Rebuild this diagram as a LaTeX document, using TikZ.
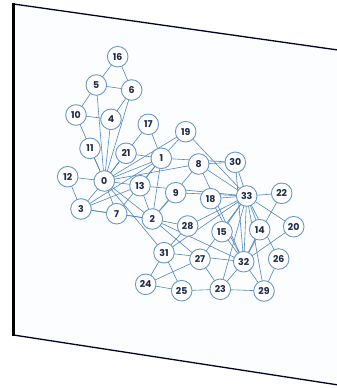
\documentclass[tikz,border=0pt]{standalone}
\usepackage{fontspec}
\setmainfont{Poppins}
\usetikzlibrary{backgrounds}
\definecolor{edgec}{HTML}{4F86C0}
\definecolor{nodec}{HTML}{6A98C8}
\definecolor{txtc}{HTML}{1C2A45}
\definecolor{planec}{HTML}{FCFDFE}
\tikzset{
  vtx/.style={circle, draw=nodec, line width=0.9pt, fill=white, minimum size=20.6pt, inner sep=0pt, text=txtc, font=\fontsize{9.4}{10}\selectfont\bfseries},
  edg/.style={draw=edgec, line width=0.6pt},
}
\begin{document}
\begin{tikzpicture}[x=1pt,y=-1pt]
\useasboundingbox (0,0) rectangle (337,388);
% nodes
\node[vtx] (n16) at (117.7,56.7) {16};
\node[vtx] (n5) at (96.3,85) {5};
\node[vtx] (n6) at (131.7,90) {6};
\node[vtx] (n10) at (76,115) {10};
\node[vtx] (n4) at (111,119.3) {4};
\node[vtx] (n17) at (148.3,124.3) {17};
\node[vtx] (n19) at (185.7,131.7) {19};
\node[vtx] (n11) at (90,148.3) {11};
\node[vtx] (n21) at (126,153.3) {21};
\node[vtx] (n1) at (161.3,158.3) {1};
\node[vtx] (n8) at (198.7,164) {8};
\node[vtx] (n30) at (235.3,162.3) {30};
\node[vtx] (n12) at (67.7,176.7) {12};
\node[vtx] (n0) at (104.3,181) {0};
\node[vtx] (n13) at (140,185.7) {13};
\node[vtx] (n9) at (175.7,192.7) {9};
\node[vtx] (n18) at (210.7,198.7) {18};
\node[vtx] (n33) at (246.7,196) {33};
\node[vtx] (n22) at (281.7,193.3) {22};
\node[vtx] (n3) at (81,209) {3};
\node[vtx] (n7) at (116.7,213.7) {7};
\node[vtx] (n2) at (152.3,219) {2};
\node[vtx] (n28) at (187.7,226) {28};
\node[vtx] (n15) at (222,231.7) {15};
\node[vtx] (n14) at (259.7,229.7) {14};
\node[vtx] (n20) at (293.7,226.7) {20};
\node[vtx] (n31) at (164,252.7) {31};
\node[vtx] (n27) at (200,259.3) {27};
\node[vtx] (n32) at (243.7,261.7) {32};
\node[vtx] (n26) at (278.7,259) {26};
\node[vtx] (n24) at (145.7,284.3) {24};
\node[vtx] (n25) at (181.7,290.7) {25};
\node[vtx] (n23) at (220.3,289.3) {23};
\node[vtx] (n29) at (264,291) {29};
\begin{scope}[on background layer]
% plane
\fill[planec] (13.5,4) -- (345,51) -- (345,386) -- (13.5,335) -- cycle;
\draw[line width=1.3pt, black!85!blue] (13.5,4) -- (345,51);
\draw[line width=1.3pt, black!85!blue] (13.5,335) -- (345,386);
\draw[line width=3pt, black] (13.5,3) -- (13.5,336);
% edges
\foreach \a/\b in {0/1,0/2,0/3,0/4,0/5,0/6,0/7,0/8,0/10,0/11,0/12,0/13,0/17,0/19,0/21,0/31,
  1/2,1/3,1/7,1/13,1/17,1/19,1/21,1/30,
  2/3,2/7,2/8,2/9,2/13,2/27,2/28,2/32,
  3/7,3/12,3/13,4/6,4/10,5/6,5/10,5/16,6/16,
  8/30,8/32,8/33,9/33,13/33,14/32,14/33,15/32,15/33,18/32,18/33,19/33,20/32,20/33,22/32,22/33,
  23/25,23/27,23/29,23/32,23/33,24/25,24/27,24/31,25/31,26/29,26/33,27/33,28/31,28/33,
  29/32,29/33,30/32,30/33,31/32,31/33,32/33}
  \draw[edg] (n\a.center) -- (n\b.center);
\end{scope}
\end{tikzpicture}
\end{document}
